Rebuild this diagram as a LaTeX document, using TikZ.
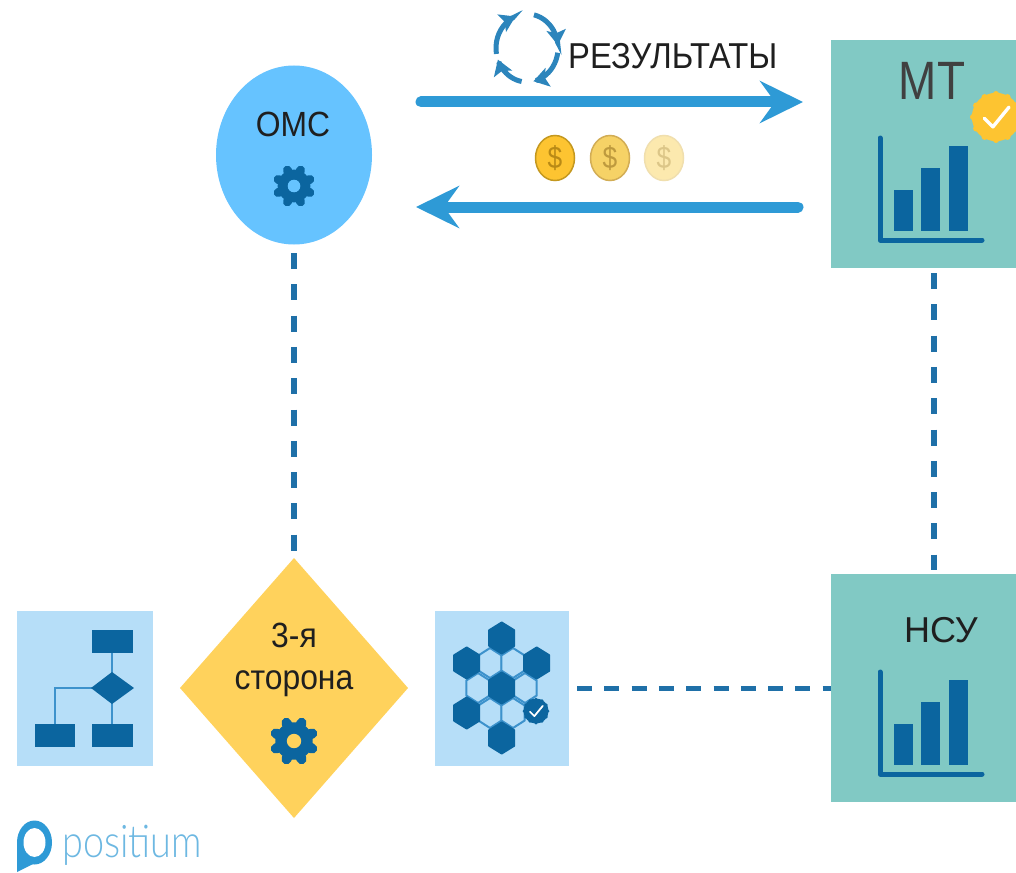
\documentclass[tikz,border=0pt]{standalone}
\usepackage{fontspec}
\setmainfont{Liberation Sans}
\newfontfamily\nar[FakeStretch=0.91]{Liberation Sans}
\newfontfamily\narm[FakeStretch=0.85]{Liberation Sans}
\newfontfamily\logofont[UprightFont=* Light,FakeStretch=0.84]{Lato}
\usetikzlibrary{arrows.meta,shapes.geometric}
\definecolor{dkblue}{HTML}{0B659F}
\definecolor{midblue}{HTML}{2E9AD6}
\definecolor{dashblue}{HTML}{1F70A8}
\definecolor{teal}{HTML}{81C9C4}
\definecolor{skyb}{HTML}{66C3FF}
\definecolor{pale}{HTML}{B6DEF8}
\definecolor{gold}{HTML}{FFD25C}
\definecolor{badge}{HTML}{FDC431}
\definecolor{cycc}{HTML}{2C85BC}
\definecolor{coinAe}{HTML}{C4981F}
\definecolor{coinAt}{HTML}{B98A16}
\definecolor{coinBf}{HTML}{F6D266}
\definecolor{coinBe}{HTML}{D2AD55}
\definecolor{coinBt}{HTML}{BE9A3E}
\definecolor{coinCf}{HTML}{FCE9AE}
\definecolor{coinCe}{HTML}{F0DFAE}
\definecolor{coinCt}{HTML}{DCC688}
\definecolor{hexline}{HTML}{3D92CC}
\tikzset{
  x=1pt,y=-1pt,
  bigarrow/.style={line width=11pt,midblue,line cap=round,-{Stealth[length=43pt,width=42pt,inset=15pt]}},
  dashv/.style={line width=5.5pt,dashblue,dash pattern=on 16pt off 15.3pt},
  dashh/.style={line width=5pt,dashblue,dash pattern=on 15pt off 12.3pt},
  cyc/.style={line width=5pt,color=cycc,-{Stealth[length=15pt,width=19pt,inset=3pt]}},
  bar/.style={fill=dkblue,draw=none},
  lbl/.style={inner sep=0pt,text=black!88,align=center},
}
% gear: x y radius holecolour
\newcommand{\gearicon}[4]{%
  \foreach \ga in {0,45,...,315}{
    \draw[dkblue,line width=0.42*#3 pt,line cap=round] (#1,#2) -- ({#1+0.82*#3*cos(\ga+22.5)},{#2+0.82*#3*sin(\ga+22.5)});
  }
  \fill[dkblue] (#1,#2) circle[radius=0.78*#3];
  \fill[#4] (#1,#2) circle[radius=0.3*#3];
}
% chart: dy offset
\newcommand{\charticon}[1]{%
  \fill[bar] (894,190+#1) rectangle (913,231+#1);
  \fill[bar] (921,168+#1) rectangle (940,231+#1);
  \fill[bar] (949,146+#1) rectangle (968,231+#1);
  \draw[dkblue,line width=5pt,line cap=round,line join=round] (880,138+#1) -- (880,240+#1) -- (982,240+#1);
}
% hexagon: x y halfwidth halfheight fill stroke
\newcommand{\hexa}[6]{%
  \filldraw[fill=#5,draw=#6,line width=2pt,line join=round]
   (#1,#2-#4) -- (#1+#3,#2-0.5*#4) -- (#1+#3,#2+0.5*#4) -- (#1,#2+#4) -- (#1-#3,#2+0.5*#4) -- (#1-#3,#2-0.5*#4) -- cycle;
}
% scalloped badge: x y r colour
\newcommand{\scallop}[4]{%
  \fill[#4] (#1,#2) circle[radius=#3*0.93];
  \foreach \ga in {0,30,...,330}{
    \fill[#4] ({#1+0.88*#3*cos(\ga)},{#2+0.88*#3*sin(\ga)}) circle[radius=0.12*#3];
  }
  \draw[white,line width=0.13*#3 pt,line cap=round,line join=round]
    (#1-0.45*#3,#2+0.05*#3) -- (#1-0.12*#3,#2+0.38*#3) -- (#1+0.5*#3,#2-0.38*#3);
}
% coin: x fill edge text
\newcommand{\coin}[4]{%
  \filldraw[fill=#2,draw=#3,line width=1.5pt] (#1,158) ellipse[x radius=19.5,y radius=22.5];
  \node[inner sep=0pt,text=#4] at (#1,158) {\narm\fontsize{31}{31}\selectfont\$};
}
\begin{document}
\begin{tikzpicture}
\useasboundingbox (0,0) rectangle (1016,872);
\fill[white] (0,0) rectangle (1016,872);
\begin{scope}
\clip (0,0) rectangle (1016,872);

% main shapes
\node[ellipse,fill=skyb,draw=none,minimum width=156pt,minimum height=179pt,inner sep=0pt] (omc) at (294,155) {};
\node[rectangle,fill=teal,minimum width=185pt,minimum height=228pt,inner sep=0pt,anchor=north west] (mt) at (831,40) {};
\node[rectangle,fill=teal,minimum width=185pt,minimum height=228pt,inner sep=0pt,anchor=north west] (nsu) at (831,574) {};
\fill[gold] (294,558) -- (408,688) -- (294,818) -- (180,688) -- cycle;
\node[rectangle,fill=pale,minimum width=136pt,minimum height=155pt,inner sep=0pt,anchor=north west] (flow) at (17,611) {};
\node[rectangle,fill=pale,minimum width=134pt,minimum height=155pt,inner sep=0pt,anchor=north west] (hex) at (435,611) {};

% labels
\node[lbl] (omct) at (293,124) {\nar\fontsize{35}{35}\selectfont ОМС};
\node[lbl,text=black!75] (mtt) at (932,81) {\narm\fontsize{54}{54}\selectfont МТ};
\node[lbl] (nsut) at (941,630) {\fontsize{36}{36}\selectfont НСУ};
\node[lbl,font=\nar\fontsize{35}{42}\selectfont] (thirdt) at (294,660) {3-я\\сторона};
\node[lbl,anchor=west] (res) at (568,56) {\nar\fontsize{36}{36}\selectfont РЕЗУЛЬТАТЫ};

% connectors
\coordinate (a1) at (421,102); \coordinate (a2) at (803,102);
\coordinate (b1) at (798,207); \coordinate (b2) at (416,207);
\draw[bigarrow] (a1) -- (a2);
\draw[bigarrow] (b1) -- (b2);
\coordinate (d1) at (294,253); \coordinate (d2) at (294,553);
\coordinate (e1) at (934,273); \coordinate (e2) at (934,570);
\coordinate (f1) at (577,688); \coordinate (f2) at (831,688);
\draw[dashv] (d1) -- (d2);
\draw[dashv] (e1) -- (e2);
\draw[dashh] (f1) -- (f2);

% gears
\gearicon{294}{186}{21}{skyb}
\gearicon{294}{741}{24}{gold}

% charts
\charticon{0}
\charticon{534}
\scallop{996}{117}{26}{badge}

% coins
\coin{555}{badge}{coinAe}{coinAt}
\coin{610}{coinBf}{coinBe}{coinBt}
\coin{664}{coinCf}{coinCe}{coinCt}

% cycle icon
\foreach \st/\en in {170/248,283/355,8/78,100/160}{
  \draw[cyc] plot[smooth,domain=\st:\en,samples=12] ({527+31*cos(\x)},{48+34*sin(\x)});
}

% flow icon
\draw[hexline,line width=2.5pt] (112,640) -- (112,735);
\draw[hexline,line width=2.5pt] (112,688) -- (55,688) -- (55,735);
\fill[dkblue] (92,630) rectangle (133,653);
\fill[dkblue] (35,724) rectangle (75,747);
\fill[dkblue] (92,724) rectangle (133,747);
\fill[dkblue] (112,672) -- (134,688) -- (112,704) -- (91,688) -- cycle;

% hex icon
\hexa{490}{663}{11.7}{15}{pale}{hexline}
\hexa{513}{663}{11.7}{15}{pale}{hexline}
\hexa{478}{688}{11.7}{15}{pale}{hexline}
\hexa{525}{688}{11.7}{15}{pale}{hexline}
\hexa{490}{713}{11.7}{15}{pale}{hexline}
\hexa{513}{713}{11.7}{15}{pale}{hexline}
\hexa{501.7}{638}{12.5}{15.5}{dkblue}{dkblue}
\hexa{466.7}{663}{12.5}{15.5}{dkblue}{dkblue}
\hexa{536.7}{663}{12.5}{15.5}{dkblue}{dkblue}
\hexa{501.7}{688}{12.5}{15.5}{dkblue}{dkblue}
\hexa{466.7}{713}{12.5}{15.5}{dkblue}{dkblue}
\hexa{501.7}{738}{12.5}{15.5}{dkblue}{dkblue}
\scallop{536}{711}{13.5}{dkblue}

% logo
\fill[midblue] (34.5,842.5) ellipse[x radius=17.5,y radius=22];
\fill[midblue] (17,842) -- (17,872) -- (37,862) -- cycle;
\fill[white] (34.5,842.5) ellipse[x radius=11,y radius=14.5];
\node[inner sep=0pt,anchor=base west,text=midblue!70] (logo) at (62,857) {\logofont\fontsize{45}{45}\selectfont positium};
\end{scope}
\end{tikzpicture}
\end{document}
